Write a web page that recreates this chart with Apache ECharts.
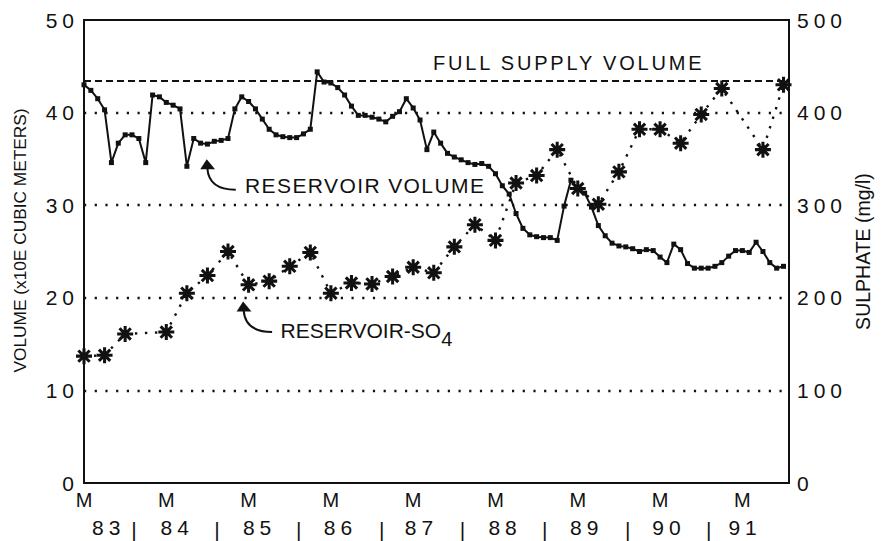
<!DOCTYPE html>
<html>
<head>
<meta charset="utf-8">
<script src="https://cdn.jsdelivr.net/npm/echarts@6.0.0/dist/echarts.min.js"></script>
<style>
html, body { margin: 0; padding: 0; background: #ffffff; }
#main { width: 890px; height: 541px; }
#main text[style*="trkA"] { letter-spacing: 5px; }
#main text[style*="trkB"] { letter-spacing: 2.8px; }
#main text[style*="trkC"] { letter-spacing: 1.4px; }
</style>
</head>
<body>
<div id="main"></div>
<script>
// ---- data (months counted from the first "M" tick of 83) ----
const volumeValues = [
  43.0, 42.4, 41.5, 40.3, 34.6, 36.7, 37.6, 37.6, 37.2, 34.6,
  41.9, 41.7, 41.1, 40.8, 40.4, 34.2, 37.2, 36.7, 36.6, 36.9,
  37.0, 37.2, 40.4, 41.7, 41.2, 40.4, 39.3, 38.2, 37.6, 37.4,
  37.3, 37.3, 37.7, 38.2, 44.4, 43.3, 43.2, 42.7, 41.9, 40.7,
  39.7, 39.7, 39.5, 39.3, 39.0, 39.6, 40.1, 41.5, 40.5, 39.2,
  36.0, 37.9, 36.7, 35.6, 35.2, 34.9, 34.6, 34.4, 34.5, 34.2,
  33.4, 32.1, 31.2, 29.1, 27.5, 26.8, 26.6, 26.5, 26.5, 26.2,
  29.9, 32.7, 31.9, 31.3, 29.8, 27.8, 26.7, 25.9, 25.6, 25.5,
  25.3, 25.0, 25.2, 25.1, 24.4, 23.8, 25.8, 25.2, 23.7, 23.2,
  23.2, 23.2, 23.4, 23.8, 24.5, 25.1, 25.1, 24.9, 26.0, 25.0,
  23.8, 23.2, 23.4
];
const sulphateMonths = [0, 3, 6, 12, 15, 18, 21, 24, 27, 30, 33, 36, 39, 42, 45, 48, 51,
  54, 57, 60, 63, 66, 69, 72, 75, 78, 81, 84, 87, 90, 93, 99, 102];
const sulphateValues = [137, 138, 161, 163, 205, 224, 250, 214, 218, 234, 249, 205, 216, 215, 223, 233, 227,
  255, 279, 262, 324, 332, 360, 318, 301, 336, 382, 382, 367, 398, 426, 360, 430];
const fullSupplyVolume = 43.4;

const monthTickValues = [0, 12, 24, 36, 48, 60, 72, 84, 96];
const monthTickLabel = 'M';
const yearLabels = ['83', '84', '85', '86', '87', '88', '89', '90', '91'];
const yearLabelMonths = [3.6, 13.6, 25.6, 37.4, 49.2, 61.4, 73.3, 85.3, 96.4];
const yearSeparatorMonths = [7.3, 19.4, 31.3, 43.4, 55.2, 67.2, 79.3, 91.1];
const yearSeparatorText = '|';
const xMax = 102.8;

const volumeTitle = 'VOLUME (x10E CUBIC METERS)';
const sulphateTitle = 'SULPHATE (mg/l)';
const fullSupplyText = 'FULL SUPPLY VOLUME';
const volumeNote = 'RESERVOIR VOLUME';
const sulphateNote = 'RESERVOIR-SO';
const sulphateNoteSub = '4';

// annotation anchors in data coordinates (month, volume)
const fullSupplyLabelAt = [50.9, 45.36];
const volumeArrowTip = [17.9, 34.96];
const sulphateArrowTip = [23.2, 19.6];

const INK = '#111111';
const FONT = "'Liberation Sans'";
const FONT_TICK = "'Liberation Sans', trkA";

const asterisk = 'path://M-10,-1.9L10,-1.9L10,1.9L-10,1.9Z M-1.9,-10L1.9,-10L1.9,10L-1.9,10Z M-8.42,-5.73L-5.73,-8.42L8.42,5.73L5.73,8.42Z M5.73,-8.42L8.42,-5.73L-5.73,8.42L-8.42,5.73Z';

const chart = echarts.init(document.getElementById('main'), null, { renderer: 'svg' });

const yearAxisValues = yearLabelMonths.concat(yearSeparatorMonths);

const option = {
  animation: false,
  backgroundColor: '#ffffff',
  grid: {
    left: 84, right: 101, top: 20, bottom: 58,
    show: true, borderColor: INK, borderWidth: 2, backgroundColor: 'transparent',
    outerBoundsMode: 'none', containLabel: false
  },
  xAxis: [
    {
      type: 'value', min: 0, max: xMax, position: 'bottom',
      axisLine: { show: true, lineStyle: { color: INK, width: 2 } },
      axisTick: { show: false },
      splitLine: { show: false },
      axisLabel: {
        customValues: monthTickValues,
        formatter: () => monthTickLabel,
        fontSize: 20, color: INK, margin: 7, fontFamily: FONT
      }
    },
    {
      type: 'value', min: 0, max: xMax, position: 'bottom', offset: 36,
      axisLine: { show: false },
      axisTick: { show: false },
      splitLine: { show: false },
      axisLabel: {
        customValues: yearAxisValues,
        formatter: (v) => {
          const i = yearLabelMonths.indexOf(v);
          return i >= 0 ? '{y|' + yearLabels[i] + '}' : '{s|' + yearSeparatorText + '}';
        },
        margin: 8, verticalAlign: 'middle', color: INK,
        rich: {
          y: { fontSize: 21, color: INK, fontFamily: FONT_TICK },
          s: { fontSize: 21, color: INK, fontFamily: FONT, padding: [5, 0, 0, 0] }
        }
      }
    }
  ],
  yAxis: [
    {
      type: 'value', min: 0, max: 50, interval: 10, position: 'left',
      axisLine: { show: true, lineStyle: { color: INK, width: 2 } },
      axisTick: { show: false },
      axisLabel: { fontSize: 21, color: INK, margin: 5, fontFamily: FONT_TICK },
      splitLine: { show: true, showMinLine: false, showMaxLine: false,
        lineStyle: { type: [2.2, 8.5], color: INK, width: 2.4 } },
      name: volumeTitle, nameLocation: 'middle', nameGap: 56,
      nameTextStyle: { fontSize: 17.3, color: INK, fontFamily: FONT, padding: [0, 0, 0, 22] }
    },
    {
      type: 'value', min: 0, max: 500, interval: 100, position: 'right',
      axisLine: { show: true, lineStyle: { color: INK, width: 2 } },
      axisTick: { show: false },
      axisLabel: { fontSize: 21, color: INK, margin: 8, fontFamily: FONT_TICK },
      splitLine: { show: false },
      name: sulphateTitle, nameLocation: 'middle', nameGap: 64,
      nameTextStyle: { fontSize: 19.5, color: INK, fontFamily: FONT }
    }
  ],
  series: [
    {
      name: 'Reservoir volume', type: 'line', xAxisIndex: 0, yAxisIndex: 0,
      data: volumeValues.map((v, i) => [i, v]),
      symbol: 'rect', symbolSize: 5, showSymbol: true,
      itemStyle: { color: INK },
      lineStyle: { color: INK, width: 2 },
      z: 4,
      markLine: {
        silent: true, symbol: 'none', label: { show: false },
        lineStyle: { type: [7, 4], width: 2, color: INK },
        data: [{ yAxis: fullSupplyVolume }]
      }
    },
    {
      name: 'Reservoir SO4', type: 'line', xAxisIndex: 0, yAxisIndex: 1,
      data: sulphateMonths.map((m, i) => [m, sulphateValues[i]]),
      symbol: asterisk, symbolSize: 16, showSymbol: true,
      itemStyle: { color: INK },
      lineStyle: { color: INK, width: 2.4, type: [2.4, 7.6] },
      z: 3
    }
  ]
};
chart.setOption(option);

const toPx = (p) => chart.convertToPixel({ seriesIndex: 0 }, p);
const fs = toPx(fullSupplyLabelAt);
const a1 = toPx(volumeArrowTip);
const a2 = toPx(sulphateArrowTip);

function arrow(t) {
  return [
    { type: 'polygon', shape: { points: [[t[0], t[1]], [t[0] - 6.5, t[1] + 10], [t[0] + 8.3, t[1] + 10]] },
      style: { fill: INK }, z: 10 },
    { type: 'bezierCurve', shape: { x1: t[0] + 0.6, y1: t[1] + 9, cpx1: t[0] + 2, cpy1: t[1] + 30.5, x2: t[0] + 29, y2: t[1] + 30.5 },
      style: { stroke: INK, lineWidth: 2, fill: null }, z: 10 }
  ];
}

chart.setOption({
  graphic: [
    { type: 'text', x: fs[0], y: fs[1], z: 10,
      style: { text: fullSupplyText, fontSize: 20, fontFamily: "'Liberation Sans', trkB", fill: INK, align: 'left', verticalAlign: 'middle' } },
    ...arrow(a1),
    { type: 'text', x: a1[0] + 38.3, y: a1[1] + 26.7, z: 10,
      style: { text: volumeNote, fontSize: 21, fontFamily: "'Liberation Sans', trkC", fill: INK, align: 'left', verticalAlign: 'middle' } },
    ...arrow(a2),
    { type: 'text', x: a2[0] + 37.4, y: a2[1] + 29.3 - 10.5, z: 10,
      style: {
        text: '{a|' + sulphateNote + '}{b|' + sulphateNoteSub + '}',
        align: 'left', verticalAlign: 'top',
        rich: {
          a: { fontSize: 21, fontFamily: FONT, fill: INK, verticalAlign: 'top' },
          b: { fontSize: 20, fontFamily: FONT, fill: INK, padding: [9, 0, 0, 0] }
        }
      } }
  ]
});
</script>
</body>
</html>
